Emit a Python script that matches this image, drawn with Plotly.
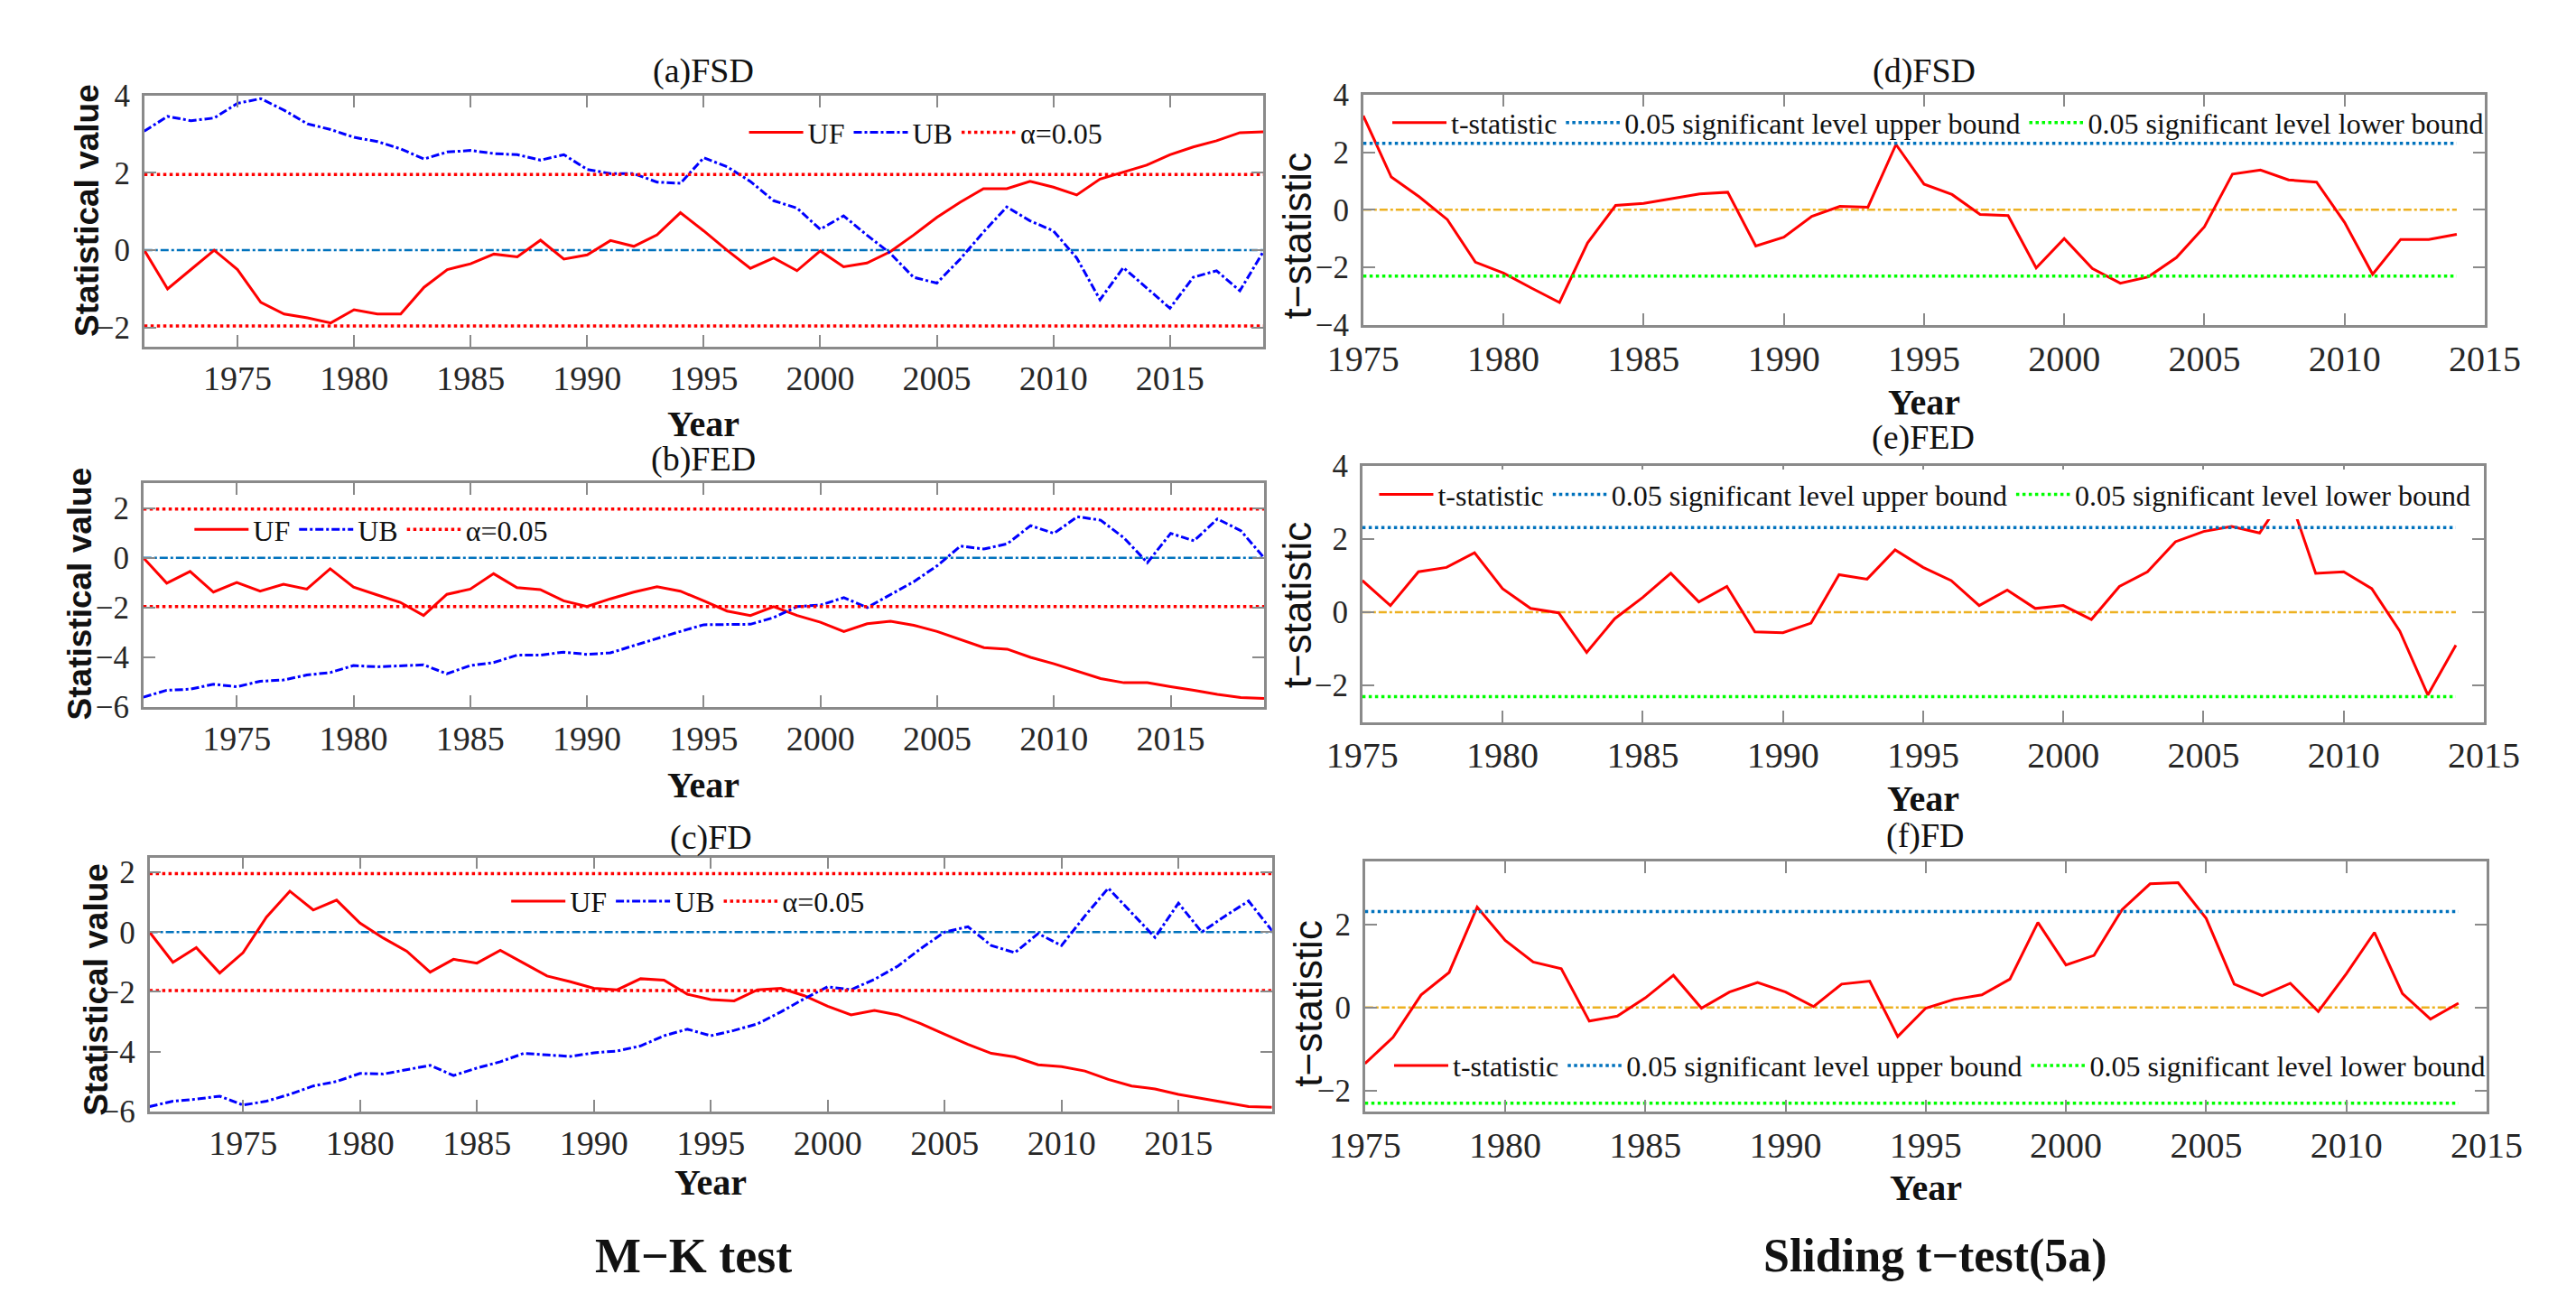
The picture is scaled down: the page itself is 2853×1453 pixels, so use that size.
import plotly.graph_objects as go

W, H = 2853, 1453
SERIF = "Liberation Serif, Times New Roman, serif"
SANS = "Liberation Sans, Arial, sans-serif"

# ---------------- data ----------------
years_mk = list(range(1971, 2020))
years_t = list(range(1975, 2015))

fsd_uf = [0, -1.0, -0.5, 0, -0.5, -1.35, -1.65, -1.75, -1.88, -1.54,
          -1.65, -1.65, -0.96, -0.5, -0.35, -0.1, -0.17, 0.26, -0.23, -0.12,
          0.25, 0.1, 0.4, 0.97, 0.5, 0, -0.47, -0.2, -0.53, -0.02,
          -0.43, -0.33, -0.04, 0.39, 0.85, 1.24, 1.59, 1.59, 1.78, 1.63,
          1.43, 1.84, 2.02, 2.2, 2.47, 2.67, 2.83, 3.04, 3.06]
fsd_ub = [3.08, 3.46, 3.35, 3.42, 3.8, 3.92, 3.62, 3.27, 3.12, 2.92,
          2.81, 2.62, 2.36, 2.54, 2.58, 2.5, 2.47, 2.33, 2.47, 2.09,
          1.98, 1.98, 1.76, 1.73, 2.39, 2.16, 1.78, 1.28, 1.09, 0.54,
          0.89, 0.39, -0.08, -0.7, -0.85, -0.23, 0.47, 1.12, 0.76, 0.5,
          -0.2, -1.28, -0.45, -0.97, -1.5, -0.7, -0.53, -1.05, -0.04]

fed_uf = [0, -1.02, -0.55, -1.38, -0.99, -1.34, -1.06, -1.26, -0.44, -1.18,
          -1.49, -1.79, -2.32, -1.47, -1.26, -0.64, -1.2, -1.28, -1.73, -1.96,
          -1.65, -1.38, -1.16, -1.34, -1.73, -2.14, -2.32, -1.96, -2.32, -2.59,
          -2.96, -2.65, -2.55, -2.71, -2.96, -3.29, -3.61, -3.67, -4.0, -4.26,
          -4.55, -4.85, -5.02, -5.02, -5.18, -5.32, -5.49, -5.61, -5.65]
fed_ub = [-5.6, -5.32, -5.28, -5.08, -5.18, -4.96, -4.91, -4.71, -4.61, -4.33,
          -4.38, -4.33, -4.3, -4.66, -4.33, -4.21, -3.91, -3.91, -3.79, -3.88,
          -3.82, -3.53, -3.24, -2.96, -2.69, -2.69, -2.67, -2.4, -1.96, -1.9,
          -1.6, -2.0, -1.49, -0.96, -0.32, 0.47, 0.35, 0.56, 1.29, 0.98,
          1.65, 1.51, 0.8, -0.2, 0.98, 0.68, 1.56, 1.09, 0]

fd_uf = [0, -1.01, -0.52, -1.37, -0.69, 0.5, 1.37, 0.74, 1.07, 0.3,
         -0.2, -0.64, -1.34, -0.91, -1.04, -0.61, -1.04, -1.47, -1.66, -1.88,
         -1.93, -1.56, -1.61, -2.08, -2.26, -2.3, -1.93, -1.88, -2.13, -2.48,
         -2.77, -2.62, -2.77, -3.07, -3.42, -3.76, -4.06, -4.18, -4.44, -4.5,
         -4.65, -4.93, -5.15, -5.25, -5.43, -5.57, -5.72, -5.84, -5.86]
fd_ub = [-5.84, -5.66, -5.59, -5.49, -5.79, -5.66, -5.43, -5.15, -5.0, -4.73,
         -4.75, -4.6, -4.46, -4.8, -4.55, -4.34, -4.06, -4.11, -4.16, -4.04,
         -3.98, -3.81, -3.47, -3.25, -3.47, -3.29, -3.07, -2.67, -2.23, -1.83,
         -1.93, -1.58, -1.14, -0.54, 0, 0.18, -0.45, -0.69, -0.05, -0.45,
         0.54, 1.47, 0.64, -0.18, 0.97, 0, 0.54, 1.04, 0.05]

fsd_t = [3.27, 1.14, 0.45, -0.34, -1.82, -2.2, -2.72, -3.22, -1.15, 0.15,
         0.22, 0.38, 0.55, 0.61, -1.26, -0.95, -0.23, 0.12, 0.09, 2.27,
         0.89, 0.53, -0.16, -0.2, -2.02, -1.0, -2.04, -2.55, -2.33, -1.66,
         -0.59, 1.24, 1.38, 1.04, 0.96, -0.44, -2.24, -1.03, -1.03, -0.85]
fed_t = [0.86, 0.18, 1.1, 1.22, 1.62, 0.64, 0.1, -0.02, -1.1, -0.18,
         0.4, 1.06, 0.28, 0.7, -0.54, -0.56, -0.3, 1.02, 0.9, 1.7,
         1.22, 0.86, 0.18, 0.6, 0.1, 0.18, -0.2, 0.7, 1.1, 1.92,
         2.2, 2.34, 2.16, 3.3, 1.06, 1.1, 0.64, -0.52, -2.26, -0.9]
fd_t = [-1.35, -0.72, 0.3, 0.84, 2.41, 1.61, 1.09, 0.93, -0.33, -0.21,
        0.23, 0.77, -0.02, 0.37, 0.6, 0.37, 0.02, 0.56, 0.63, -0.7,
        -0.02, 0.19, 0.3, 0.68, 2.04, 1.02, 1.25, 2.35, 2.97, 3.0,
        2.14, 0.56, 0.28, 0.58, -0.1, 0.81, 1.8, 0.33, -0.28, 0.1]

ALPHA_CRIT = 1.96     # M-K test, alpha = 0.05
T_CRIT = 2.306        # sliding t-test, 0.05 significance level

mk_titles = ["(a)FSD", "(b)FED", "(c)FD"]
t_titles = ["(d)FSD", "(e)FED", "(f)FD"]
mk_series = [(fsd_uf, fsd_ub), (fed_uf, fed_ub), (fd_uf, fd_ub)]
t_series = [fsd_t, fed_t, fd_t]

mk_yranges = [[-2.5, 4], [-6, 3], [-6, 2.5]]
mk_yticks = [[-2, 0, 2, 4], [-6, -4, -2, 0, 2], [-6, -4, -2, 0, 2]]
t_yranges = [[-4, 4], [-3, 4], [-2.5, 3.5]]
t_yticks = [[-4, -2, 0, 2, 4], [-2, 0, 2, 4], [-2, 0, 2]]
xticks_mk = [1975, 1980, 1985, 1990, 1995, 2000, 2005, 2010, 2015]
xticks_t = [1975, 1980, 1985, 1990, 1995, 2000, 2005, 2010, 2015]

# ---------------- layout geometry (pixels) ----------------
boxes = [  # x0, x1, y0(top), y1(bottom)
    (115, 1390, 81, 367),
    (114, 1391, 522, 777),
    (121, 1400, 948, 1237),
    (1504, 2782, 80, 342),
    (1503, 2781, 502, 794),
    (1506, 2784, 953, 1237),
]
title_y = [53, 495, 925, 53, 470, 923]
year_y = [455, 866, 1318, 430, 881, 1324]
ylab_pos = [(50, 212), (42, 648), (60, 1098), (1429, 240), (1428, 660), (1440, 1114)]
legend_pos = [(799, 123), (167, 575), (528, 998), (1532, 112), (1517, 535), (1534, 1185)]
legend_bg = ["rgba(255,255,255,0)", "rgba(255,255,255,0)", "rgba(255,255,255,0)",
             "rgba(255,255,255,0)", "white", "rgba(255,255,255,0)"]


def px(x):
    return x / W


def py(y):
    return 1 - y / H


fig = go.Figure()

RED = "#FF0000"
BLUE = "#0000FF"
MBLUE = "#0072BD"
ORANGE = "#EDB120"
GREEN = "#00FF00"

for i in range(6):
    n = i + 1
    xa = "x" if n == 1 else f"x{n}"
    ya = "y" if n == 1 else f"y{n}"
    lg = "legend" if n == 1 else f"legend{n}"
    if i < 3:
        uf, ub = mk_series[i]
        yrs = years_mk
        fig.add_trace(go.Scatter(x=yrs, y=[0] * len(yrs), mode="lines", xaxis=xa, yaxis=ya,
                                 line=dict(color=MBLUE, width=2.5, dash="dashdot"),
                                 showlegend=False, hoverinfo="skip"))
        fig.add_trace(go.Scatter(x=yrs, y=uf, mode="lines", name="UF", xaxis=xa, yaxis=ya,
                                 legend=lg, line=dict(color=RED, width=3)))
        fig.add_trace(go.Scatter(x=yrs, y=ub, mode="lines", name="UB", xaxis=xa, yaxis=ya,
                                 legend=lg, line=dict(color=BLUE, width=3, dash="dashdot")))
        fig.add_trace(go.Scatter(x=yrs, y=[ALPHA_CRIT] * len(yrs), mode="lines", name="α=0.05",
                                 xaxis=xa, yaxis=ya, legend=lg,
                                 line=dict(color=RED, width=3.5, dash="dot")))
        fig.add_trace(go.Scatter(x=yrs, y=[-ALPHA_CRIT] * len(yrs), mode="lines", name="α=0.05",
                                 xaxis=xa, yaxis=ya, showlegend=False,
                                 line=dict(color=RED, width=3.5, dash="dot")))
    else:
        j = i - 3
        ts = t_series[j]
        yrs = years_t
        fig.add_trace(go.Scatter(x=yrs, y=[0] * len(yrs), mode="lines", xaxis=xa, yaxis=ya,
                                 line=dict(color=ORANGE, width=2.5, dash="dashdot"),
                                 showlegend=False, hoverinfo="skip"))
        fig.add_trace(go.Scatter(x=yrs, y=ts, mode="lines", name="t-statistic", xaxis=xa, yaxis=ya,
                                 legend=lg, line=dict(color=RED, width=3)))
        fig.add_trace(go.Scatter(x=yrs, y=[T_CRIT] * len(yrs), mode="lines",
                                 name="0.05 significant level upper bound", xaxis=xa, yaxis=ya,
                                 legend=lg, line=dict(color=MBLUE, width=3.5, dash="dot")))
        fig.add_trace(go.Scatter(x=yrs, y=[-T_CRIT] * len(yrs), mode="lines",
                                 name="0.05 significant level lower bound", xaxis=xa, yaxis=ya,
                                 legend=lg, line=dict(color=GREEN, width=3.5, dash="dot")))

layout = dict(
    width=W, height=H, autosize=False,
    margin=dict(l=0, r=0, t=0, b=0),
    paper_bgcolor="white", plot_bgcolor="white",
    font=dict(family=SERIF, color="#262626"),
    annotations=[],
)

axis_common = dict(showline=True, linecolor="#8a8a8a", linewidth=2.5, mirror="ticks",
                   ticks="inside", ticklen=13, tickwidth=2, tickcolor="#8a8a8a",
                   showgrid=False, zeroline=False)

titles = mk_titles + t_titles
for i in range(6):
    n = i + 1
    x0, x1, y0, y1 = boxes[i]
    xk = "xaxis" if n == 1 else f"xaxis{n}"
    yk = "yaxis" if n == 1 else f"yaxis{n}"
    ya = "y" if n == 1 else f"y{n}"
    xa = "x" if n == 1 else f"x{n}"
    if i < 3:
        xr = [years_mk[0], years_mk[-1]]
        xt = xticks_mk
        yr = mk_yranges[i]
        yt = mk_yticks[i]
        xfs = 38
    else:
        xr = [1975, 2015]
        xt = xticks_t
        yr = t_yranges[i - 3]
        yt = t_yticks[i - 3]
        xfs = 40
    layout[xk] = dict(axis_common, domain=[px(x0), px(x1)], anchor=ya, range=xr,
                      tickvals=xt, tickfont=dict(family=SERIF, size=xfs, color="#262626"),
                      ticklabelstandoff=0)
    layout[yk] = dict(axis_common, domain=[py(y1), py(y0)], anchor=xa, range=yr,
                      tickvals=yt, tickfont=dict(family=SERIF, size=35, color="#262626"),
                      ticklabelstandoff=6)
    lg = "legend" if n == 1 else f"legend{n}"
    lx, ly = legend_pos[i]
    layout[lg] = dict(x=px(lx), y=py(ly), xanchor="left", yanchor="middle",
                      orientation="h", bgcolor=legend_bg[i], borderwidth=0,
                      font=dict(family=SERIF, size=32, color="#111111"),
                      itemwidth=60, tracegroupgap=0)

    cx = (x0 + x1) / 2
    layout["annotations"].append(dict(text=titles[i], x=px(cx), y=py(title_y[i]), xref="paper",
                                      yref="paper", showarrow=False, xanchor="center",
                                      yanchor="middle",
                                      font=dict(family=SERIF, size=38, color="#111111")))
    layout["annotations"].append(dict(text="<b>Year</b>", x=px(cx), y=py(year_y[i]), xref="paper",
                                      yref="paper", showarrow=False, xanchor="center",
                                      yanchor="middle",
                                      font=dict(family=SERIF, size=40, color="#111111")))
    lxp, lyp = ylab_pos[i]
    if i < 3:
        txt = "<b>Statistical value</b>"
        f = dict(family=SANS, size=37, color="#111111")
    else:
        txt = "t−statistic"
        f = dict(family=SANS, size=44, color="#111111")
    layout["annotations"].append(dict(text=txt, x=px(lxp), y=py(lyp), xref="paper", yref="paper",
                                      showarrow=False, textangle=-90, xanchor="center",
                                      yanchor="middle", font=f))

layout["annotations"].append(dict(text="<b>M−K test</b>", x=px(741), y=py(1402), xref="paper",
                                  yref="paper", showarrow=False, xanchor="center", yanchor="middle",
                                  font=dict(family=SERIF, size=54, color="#111111")))
layout["annotations"].append(dict(text="<b>Sliding t−test(5a)</b>", x=px(2156), y=py(1402),
                                  xref="paper", yref="paper", showarrow=False, xanchor="center",
                                  yanchor="middle",
                                  font=dict(family=SERIF, size=52, color="#111111")))

fig.update_layout(**layout)
fig.write_html("out.html")
